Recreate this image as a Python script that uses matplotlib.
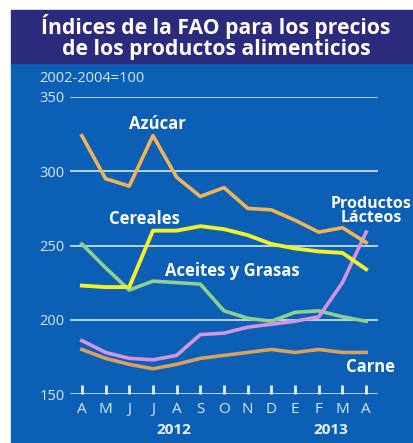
import matplotlib.pyplot as plt
from matplotlib.patches import Rectangle

months = ["A", "M", "J", "J", "A", "S", "O", "N", "D", "E", "F", "M", "A"]
azucar = [324, 295, 290, 324, 296, 283, 289, 275, 274, 267, 259, 262, 252]
cereales = [223, 222, 222, 260, 260, 263, 261, 257, 251, 248, 246, 245, 234]
aceites = [251, 235, 220, 226, 225, 224, 206, 201, 199, 205, 206, 202, 199]
lacteos = [186, 178, 174, 173, 176, 190, 191, 195, 197, 199, 202, 225, 259]
carne = [180, 174, 170, 167, 170, 174, 176, 178, 180, 178, 180, 178, 178]
yticks = [150, 200, 250, 300, 350]

plt.rcParams['font.family'] = ['Open Sans', 'DejaVu Sans']

W, H = 413, 443
fig = plt.figure(figsize=(W / 100, H / 100), dpi=100)
fig.patches.append(Rectangle((11 / W, 0), 1, 1 - 63 / H, transform=fig.transFigure,
                             color='#0b5fb5', zorder=-2))
fig.patches.append(Rectangle((11 / W, 1 - 63 / H), 1, 53 / H, transform=fig.transFigure,
                             color='#2b2a7c', zorder=-2))
fig.text((11 + W) / 2 / W + 4 / W, 1 - 37 / H, "Índices de la FAO para los precios\nde los productos alimenticios",
         ha='center', va='center', color='white', fontsize=15.2, fontweight='bold',
         linespacing=0.98)
fig.text(39 / W, 1 - 78 / H, "2002-2004=100", color='#d8e8f8', fontsize=10.5, va='center')

ax = fig.add_axes([70 / W, 1 - 394 / H, 308 / W, 297 / H])
ax.set_facecolor('none')
ax.set_xlim(-0.5, 12.5)
ax.set_ylim(150, 350)
for s in ax.spines.values():
    s.set_visible(False)

for v in yticks:
    ax.axhline(v, color='#c8dcf4', lw=1.3, zorder=1)

x = list(range(len(months)))
# short tick marks standing on the baseline
ax.vlines(x, yticks[0], yticks[0] + 6, colors='#e4eefa', lw=2.0, zorder=7, clip_on=False)

ax.plot(x, carne, color='#d9a060', lw=2.6, zorder=3, clip_on=False)
ax.plot(x, aceites, color='#8fd08f', lw=2.6, zorder=3, clip_on=False)
ax.plot(x, lacteos, color='#d394e0', lw=2.6, zorder=4, clip_on=False)
ax.plot(x, cereales, color='#f2f02a', lw=2.8, zorder=5, clip_on=False)
ax.plot(x, azucar, color='#f0b457', lw=2.6, zorder=6, clip_on=False)

ax.set_yticks(yticks)
ax.set_yticklabels([str(v) for v in yticks], color='#d8e8f8', fontsize=10.5)
ax.tick_params(axis='y', length=0, pad=4)
ax.set_xticks(x)
ax.set_xticklabels(months, color='#d8e8f8', fontsize=11)
ax.tick_params(axis='x', length=0, pad=6)

lab = dict(color='white', fontsize=12, fontweight='bold', ha='center', va='center')
ax.text(3.17, 332, "Azúcar", **lab)
ax.text(2.66, 268, "Cereales", **lab)
ax.text(6.34, 233, "Aceites y Grasas", **lab)
ax.text(12.22, 273, "Productos\nLácteos", linespacing=0.85, clip_on=False,
        **{**lab, 'fontsize': 11.5})
ax.text(12.17, 168, "Carne", **lab)

ax.text(3.9, 126, "2012", color='#f0f0f0', fontsize=11, fontweight='bold', ha='center', va='center')
ax.text(10.5, 126, "2013", color='#f0f0f0', fontsize=11, fontweight='bold', ha='center', va='center')

fig.savefig("out.png", dpi=100)
